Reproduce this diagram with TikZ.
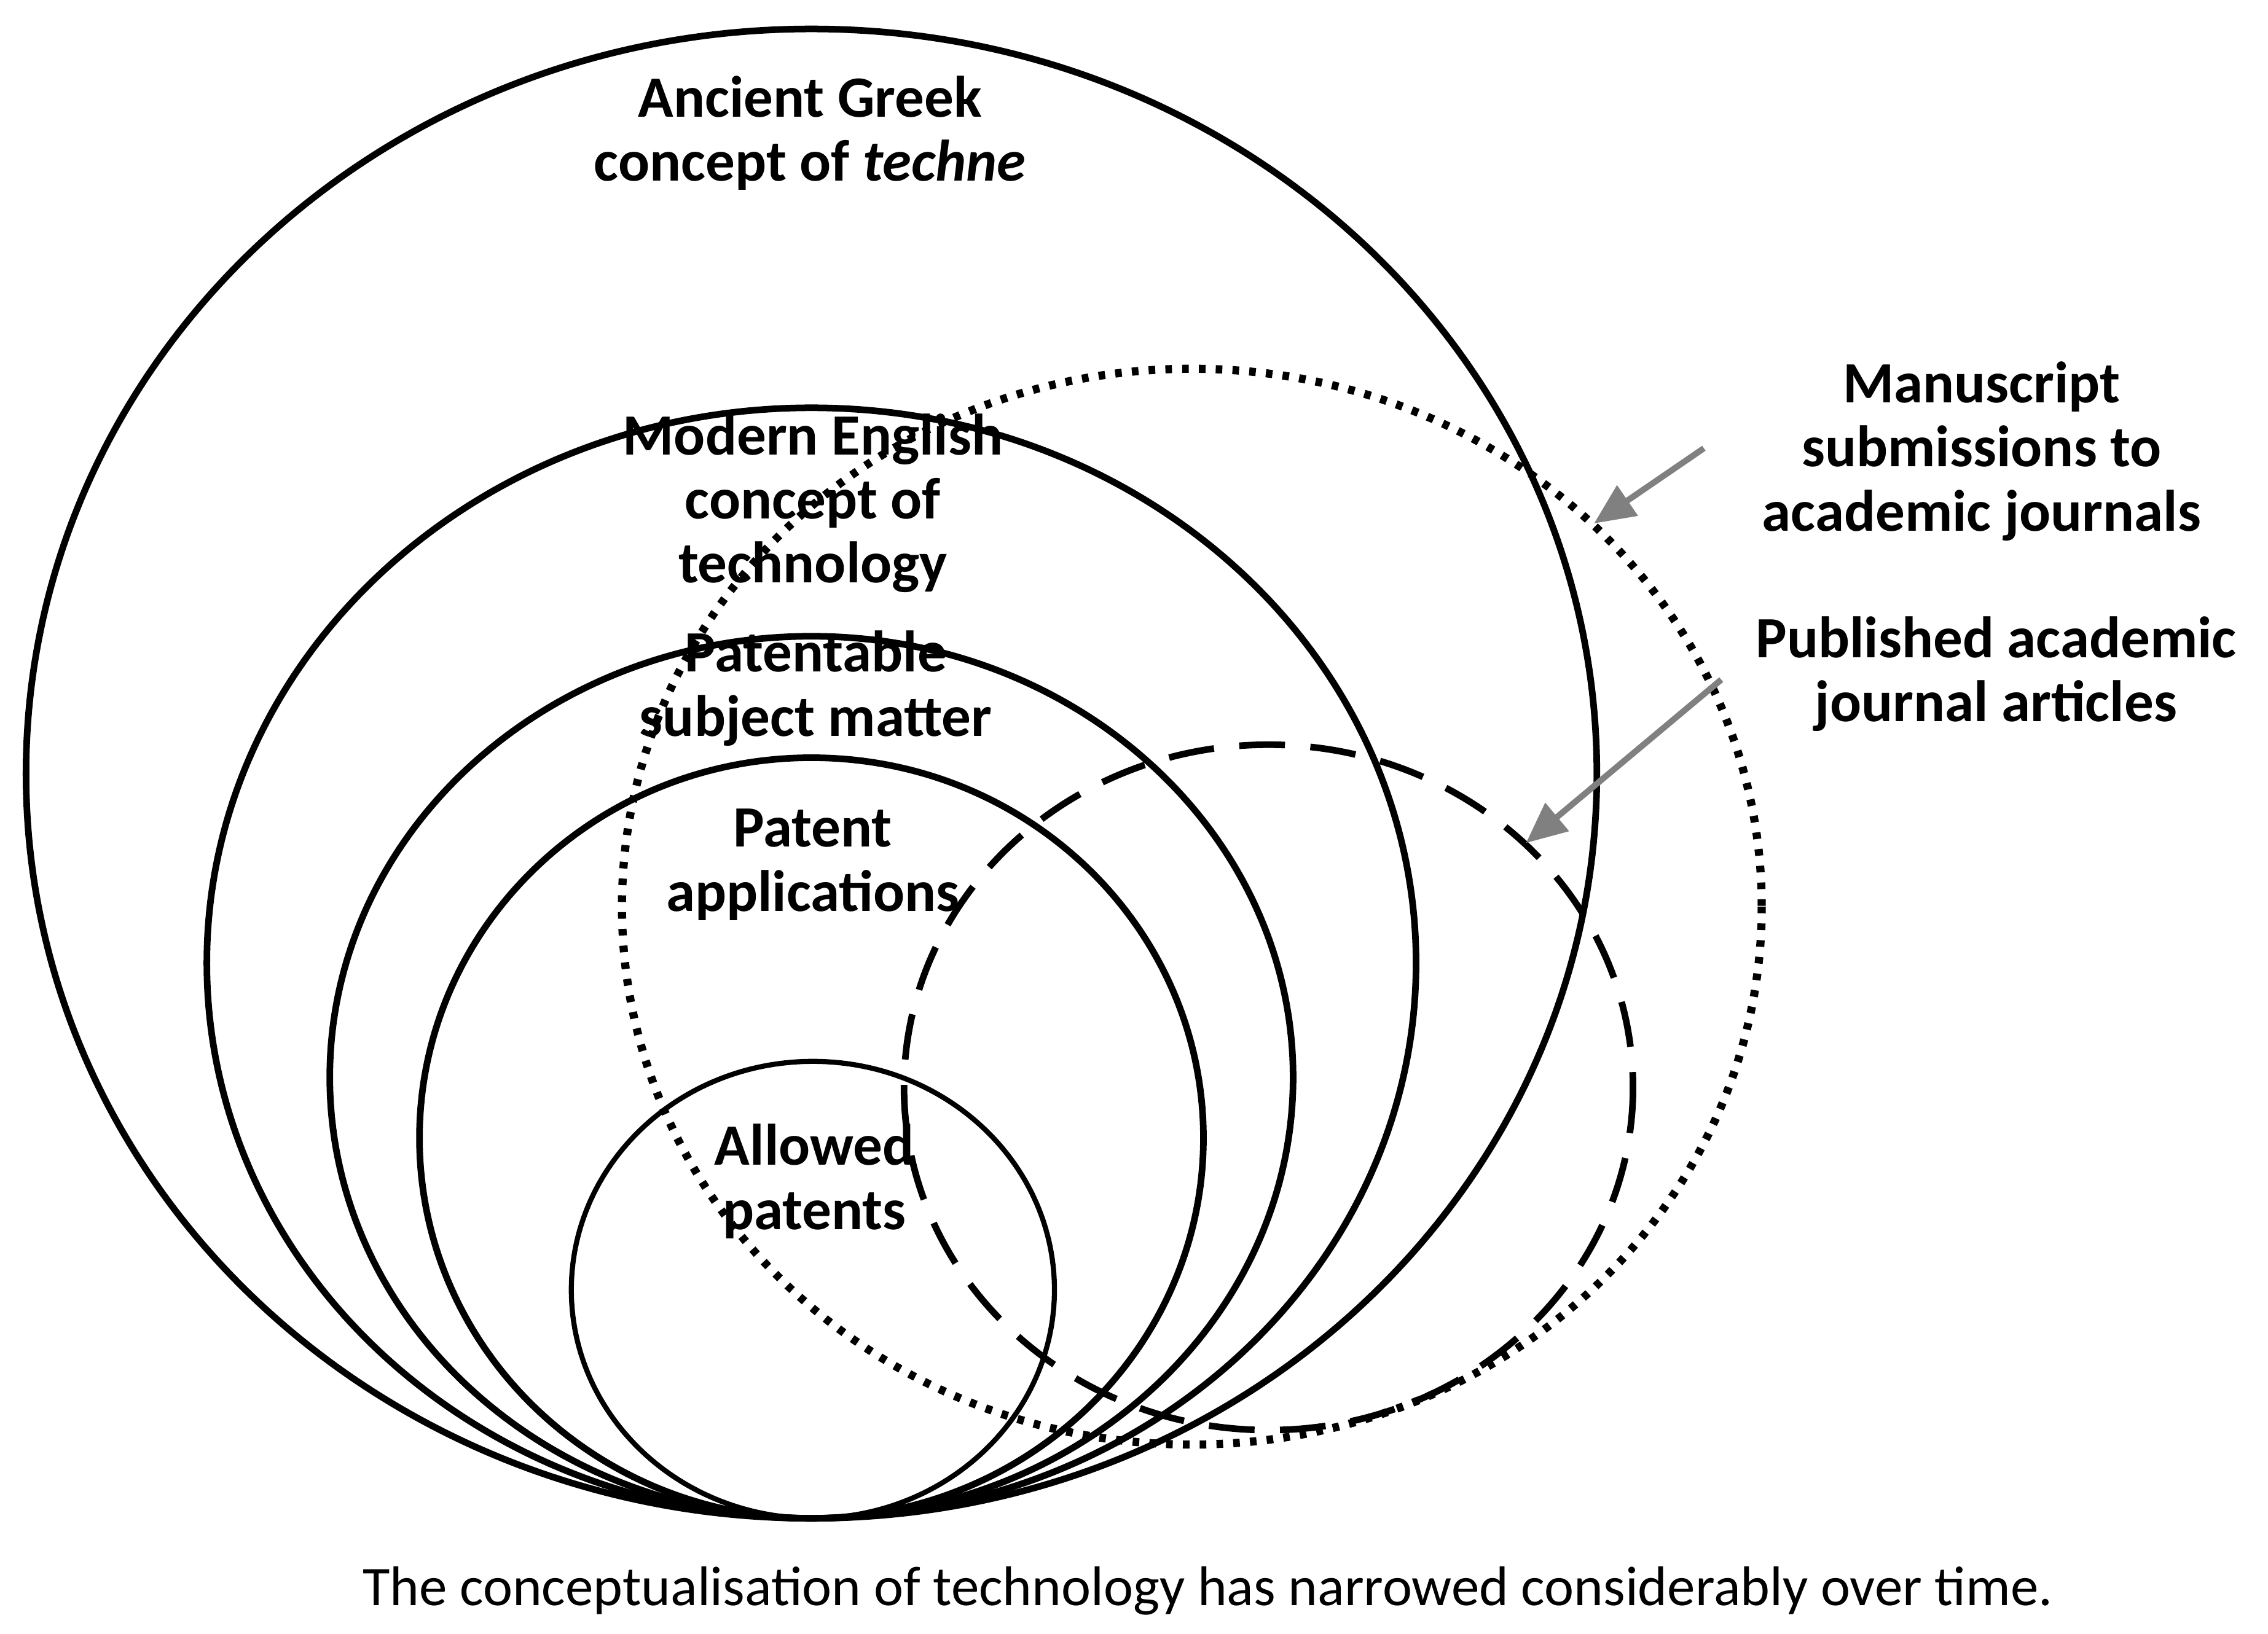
\documentclass[tikz,border=0pt]{standalone}
\usepackage{fontspec}
\setmainfont{Carlito}
\usetikzlibrary{arrows.meta,positioning}
\tikzset{
    ring/.style={draw=black, line width=1.3pt},
    label/.style={font=\bfseries\fontsize{11.5}{12.6}\selectfont, align=center},
    pointer/.style={draw=gray, line width=1.2pt, -{Triangle[length=8pt,width=7pt]}},
}
\begin{document}
\begin{tikzpicture}[x=0.01cm, y=-0.01cm]
      \useasboundingbox (0,0) rectangle (1568,1130);
      % nested circles
      \draw[ring] (561,535) ellipse [x radius=543, y radius=515];
      \draw[ring] (561,666) ellipse [x radius=418, y radius=384];
      \draw[ring] (561,745) ellipse [x radius=333, y radius=305];
      \draw[ring] (561,787) ellipse [x radius=271, y radius=263];
      \draw[ring, line width=1pt] (562,892) ellipse [x radius=167, y radius=158];
      % journals
      \draw[ring, dotted, line width=1.6pt] (824,627) ellipse [x radius=394, y radius=372];
      \draw[ring, dash pattern=on 9pt off 5pt, line width=1.3pt] (877,752) ellipse [x radius=252, y radius=237];
      \node[label] (greek)   at (560,92)  {Ancient Greek\\concept of \textit{techne}};
      \node[label] (english) at (562,348) {Modern English\\concept of\\technology};
      \node[label] (subject) at (564,476) {Patentable\\subject matter};
      \node[label] (applic)  at (562,598) {Patent\\applications};
      \node[label] (allowed) at (563,817) {Allowed\\patents};
      \node[label] (manu)    at (1370,312) {Manuscript\\submissions to\\academic journals};
      \node[label] (publ)    at (1380,466) {Published academic\\journal articles};
      \coordinate (manuend) at (1102,362);
      \coordinate (publend) at (1055,583);
      \draw[pointer] (1178,310) -- (manuend);
      \draw[pointer] (1190,470) -- (publend);
      \node[font=\fontsize{11}{13}\selectfont] (caption) at (835,1100) {The conceptualisation of technology has narrowed considerably over time.};
\end{tikzpicture}
\end{document}
